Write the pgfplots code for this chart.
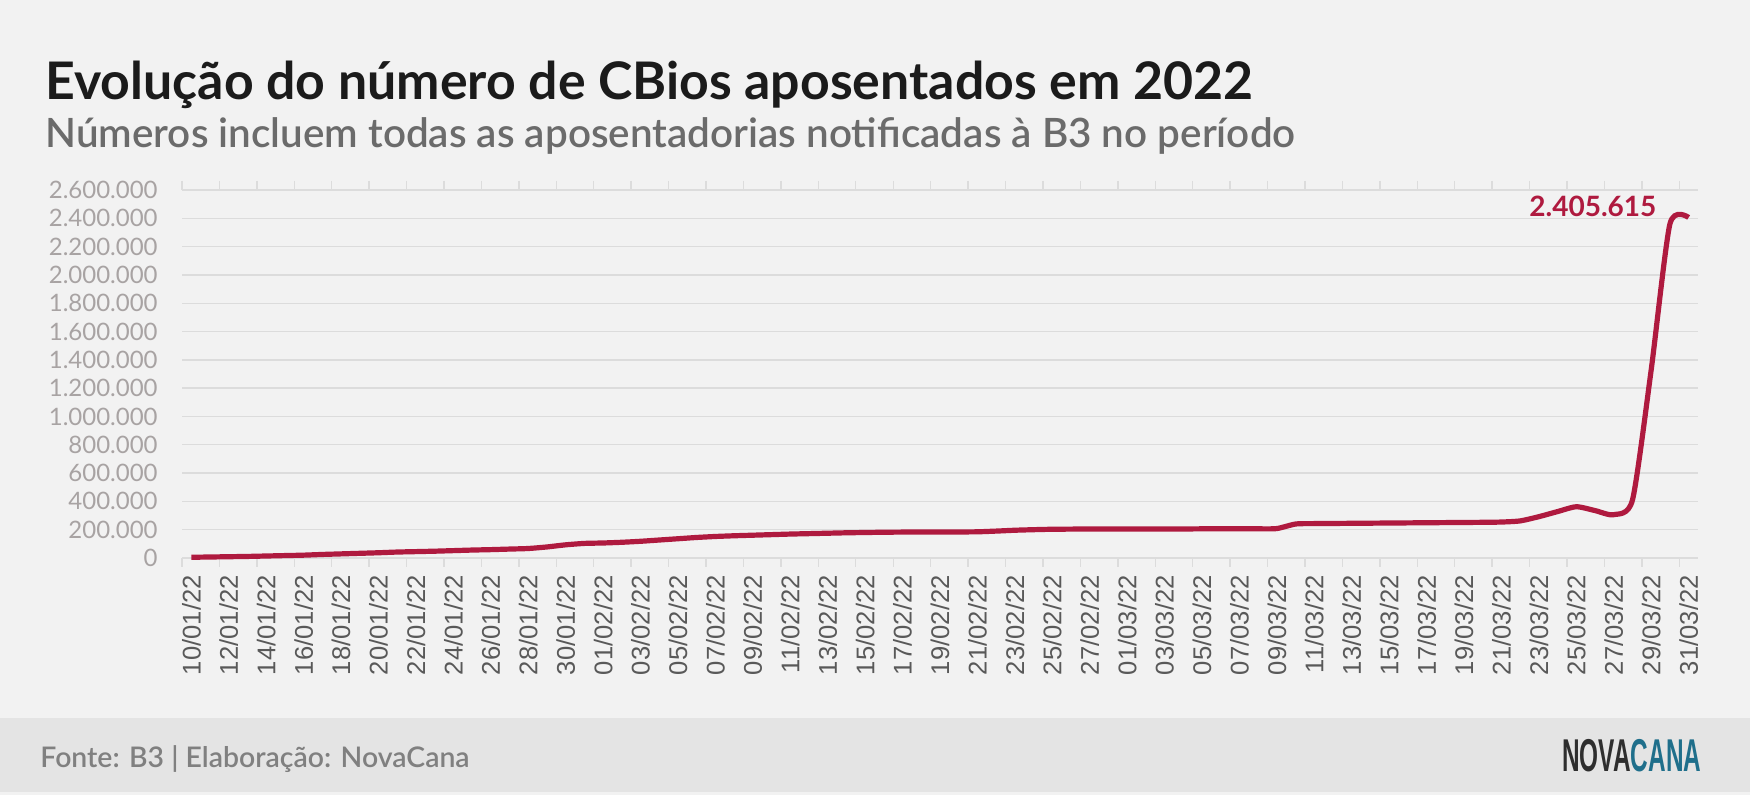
\documentclass[border=0pt]{standalone}
\usepackage{fontspec}
\setmainfont{Lato}
\newfontfamily\arialf{Liberation Sans}
\IfFontExistsTF{Lato Semibold}
  {\newfontfamily\semif{Lato Semibold}\newcommand\subsize{20.2}}
  {\newfontfamily\semif{Lato}[FakeBold=0.4]\newcommand\subsize{20.3}}
\usepackage{pgfplots}
\pgfplotsset{compat=1.18}

\definecolor{bgc}{HTML}{F2F2F2}
\definecolor{footc}{HTML}{E4E4E4}
\definecolor{gridc}{HTML}{DCDCDC}
\definecolor{linec}{HTML}{AF1A3F}
\definecolor{titlec}{HTML}{1B1B1B}
\definecolor{subc}{HTML}{6B6B6B}
\definecolor{ytickc}{HTML}{A8A3A3}
\definecolor{xtickc}{HTML}{595959}
\definecolor{fonte}{HTML}{808080}
\definecolor{logodark}{HTML}{2E2E2E}
\definecolor{logoteal}{HTML}{1F6F8B}

% CBios aposentados, acumulado diario (0 = 10/01/22 ... 80 = 31/03/22)
\begin{document}
\begin{tikzpicture}
\fill[bgc] (0,0) rectangle (875pt,397.5pt);
\fill[footc] (0,1.5pt) rectangle (875pt,38.5pt);

\node[anchor=base west, inner sep=0, text=titlec, font=\bfseries\fontsize{25.9}{30}\selectfont]
  at (22.5pt,347.5pt) {Evolução do número de CBios aposentados em 2022};
\node[anchor=base west, inner sep=0, text=subc, font=\semif\fontsize{\subsize}{24}\selectfont]
  at (22.5pt,323.5pt) {Números incluem todas as aposentadorias notificadas à B3 no período};

\node[anchor=base west, inner sep=0, text=fonte, font=\semif\fontsize{14.2}{16}\selectfont]
  at (20pt,13.5pt) {Fonte: B3 | Elaboração: NovaCana};
\node[anchor=base west, inner sep=0, xscale=0.53, font=\arialf\bfseries\fontsize{23}{24}\selectfont]
  at (781pt,11.5pt) {\textcolor{logodark}{NOVA}\textcolor{logoteal}{CANA}};

\begin{axis}[
    at={(91pt,118.5pt)}, anchor=south west,
    scale only axis, width=758pt, height=184pt,
    xmin=-0.5, xmax=80.5, ymin=0, ymax=2600000,
    clip=false,
    axis line style={draw=none},
    ymajorgrids, grid style={draw=gridc, line width=0.7pt},
    ytick={0,200000,...,2600000},
    scaled y ticks=false,
    ytick style={draw=none},
    yticklabel style={font=\fontsize{12}{12}\selectfont, text=ytickc, inner sep=0pt, anchor=east, xshift=-12pt,
        /pgf/number format/.cd, fixed, precision=0, 1000 sep={.}, assume math mode=true},
    xtick={0,2,...,80},
    xticklabels={10/01/22,12/01/22,14/01/22,16/01/22,18/01/22,20/01/22,22/01/22,24/01/22,26/01/22,28/01/22,30/01/22,
                 01/02/22,03/02/22,05/02/22,07/02/22,09/02/22,11/02/22,13/02/22,15/02/22,17/02/22,19/02/22,21/02/22,23/02/22,25/02/22,27/02/22,
                 01/03/22,03/03/22,05/03/22,07/03/22,09/03/22,11/03/22,13/03/22,15/03/22,17/03/22,19/03/22,21/03/22,23/03/22,25/03/22,27/03/22,29/03/22,31/03/22},
    xtick style={draw=none},
    major tick length=0pt,
    xticklabel style={font=\arialf\fontsize{12.8}{13}\selectfont, text=xtickc, rotate=90, anchor=east, inner sep=0pt},
    xticklabel shift=8.5pt,
    extra x ticks={-0.5,1.5,...,80},
    extra x tick labels={},
    extra x tick style={xtick style={draw=gridc, line width=0.7pt}, major tick length=4.5pt, tick align=outside, xmajorgrids=false},
]
\addplot[draw=linec, line width=2.6pt, smooth, tension=0.4, no markers] table {
x y
0 5000
1 7000
2 9000
3 11000
4 14000
5 17000
6 20000
7 25000
8 29000
9 33000
10 37000
11 42000
12 45000
13 48000
14 52000
15 56000
16 59000
17 63000
18 67000
19 78000
20 93000
21 103000
22 106000
23 111000
24 118000
25 127000
26 136000
27 145000
28 152000
29 157000
30 161000
31 165000
32 169000
33 172000
34 175000
35 178000
36 180000
37 182000
38 183000
39 184000
40 184000
41 184000
42 185000
43 190000
44 196000
45 200000
46 203000
47 204000
48 205000
49 205000
50 205000
51 205000
52 205000
53 205000
54 206000
55 206000
56 206000
57 206000
58 208000
59 240000
60 243000
61 244000
62 245000
63 246000
64 247000
65 248000
66 249000
67 250000
68 251000
69 252000
70 254000
71 262000
72 292000
73 328000
74 362000
75 335000
76 306000
77 410000
78 1330000
79 2360000
80 2405615
};
\node[anchor=base east, inner sep=0, text=linec, font=\bfseries\fontsize{14}{14}\selectfont]
  at (axis cs:78.3,2416000) {2.405.615};
\end{axis}
\end{tikzpicture}
\end{document}
